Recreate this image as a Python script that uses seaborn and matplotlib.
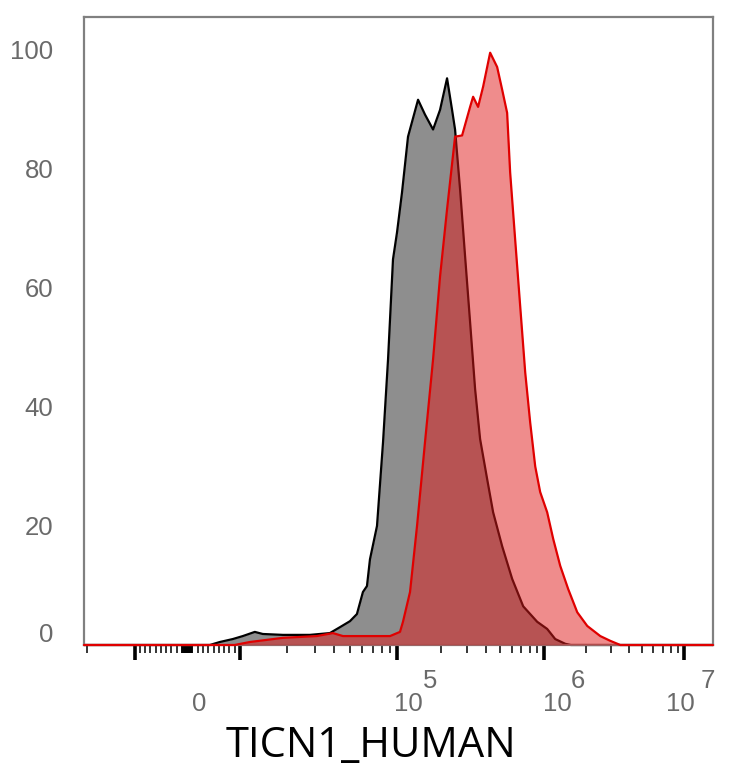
import numpy as np
import pandas as pd
import matplotlib
matplotlib.use("Agg")
import matplotlib.pyplot as plt
import matplotlib.transforms as mtransforms
import seaborn as sns

# histogram outlines: fluorescence intensity vs. normalized count (% of mode)
control_x = [-21000, 4300, 6190, 8670, 10450, 12460, 14010, 18790, 27900, 37400,
             43400, 50200, 55600, 60700, 64400, 67300, 74600, 81500, 87700, 94300,
             100000, 108100, 118800, 139000, 155000, 175800, 196100, 218800, 236600,
             248000, 268300, 290100, 313800, 339300, 366900, 409500, 449800, 518000,
             606000, 720000, 896000, 1050000, 1198000, 1413000, 1550000, 16000000]
control_y = [0, 0, 0.5, 1.0, 1.5, 2.2, 1.85, 1.7, 1.7, 2.0,
             3.0, 4.0, 5.2, 8.9, 9.9, 14.4, 20.0, 34.1, 48.0, 64.8,
             69.3, 76.0, 85.4, 91.6, 89.1, 86.6, 89.9, 95.2, 89.9,
             86.6, 76.5, 65.3, 54.2, 43.0, 34.6, 27.9, 22.3, 16.6,
             11.1, 6.5, 3.9, 2.7, 1.0, 0.2, 0, 0]

stained_x = [-21000, 9000, 11580, 18790, 30900, 39100, 45300, 70300, 90300, 104800,
             109800, 122600, 136800, 155000, 175800, 196100, 218800, 248000, 276800,
             313800, 328900, 355600, 384700, 429300, 479000, 518000, 560000, 587000,
             635000, 687000, 743000, 803000, 869000, 939000, 1050000, 1160000, 1301000,
             1483000, 1721000, 2028000, 2512000, 2960000, 3490000, 16000000]
stained_y = [0, 0, 0.5, 1.2, 1.5, 2.0, 1.5, 1.5, 1.5, 2.2,
             3.9, 8.9, 20.0, 34.1, 48.0, 61.9, 73.2, 85.4, 85.6,
             90.4, 92.1, 90.4, 93.8, 99.5, 97.1, 93.3, 89.4, 79.4,
             68.1, 56.9, 45.8, 37.4, 30.0, 25.7, 22.3, 17.8, 13.3,
             9.4, 5.5, 3.2, 1.5, 0.7, 0, 0]

y_ticks = [0, 20, 40, 60, 80, 100]
x_label = "TICN1_HUMAN"

# biexponential-like display axis (linear around zero, log above 1e4)
LIN = 1e4
s_anchor = [-10, -2, -1, 0, 1, 2, 3, 4, 10]
p_anchor = [-1278, -22, 135, 187.5, 240, 397, 544, 684, 1524]


def _to_s(x):
    x = np.asarray(x, dtype=float)
    ax_ = np.maximum(np.abs(x), 1e-12)
    with np.errstate(divide="ignore", invalid="ignore"):
        s = np.where(ax_ <= LIN, x / LIN, np.sign(x) * (1 + np.log10(ax_ / LIN)))
    return s


def fwd(x):
    return np.interp(_to_s(x), s_anchor, p_anchor)


def inv(p):
    s = np.interp(np.asarray(p, dtype=float), p_anchor, s_anchor)
    return np.where(np.abs(s) <= 1, s * LIN, np.sign(s) * LIN * 10 ** (np.abs(s) - 1))


sns.set_theme(style="white")
plt.rcParams["font.family"] = ["Liberation Sans", "DejaVu Sans"]

fig = plt.figure(figsize=(7.34, 7.68), dpi=100)
ax = fig.add_axes([84 / 734, 1 - 645 / 768, 629 / 734, 628 / 768])
ax.set_xscale("function", functions=(fwd, inv))

df = pd.concat([
    pd.DataFrame({"intensity": control_x, "count": control_y, "sample": "control"}),
    pd.DataFrame({"intensity": stained_x, "count": stained_y, "sample": "stained"}),
])

ctrl = df[df["sample"] == "control"]
stn = df[df["sample"] == "stained"]

ax.fill_between(ctrl["intensity"], ctrl["count"], color="#8e8e8e", lw=0, zorder=1)
sns.lineplot(data=ctrl, x="intensity", y="count", color="black", lw=1.6,
             sort=False, ax=ax, zorder=2, clip_on=False)
ax.fill_between(stn["intensity"], stn["count"], color="#e01a1a", alpha=0.5, lw=0, zorder=3)
sns.lineplot(data=stn, x="intensity", y="count", color="#e00000", lw=1.6,
             sort=False, ax=ax, zorder=4, clip_on=False)

ax.set_xlim(-21000, 16000000)
ax.set_ylim(0, 105.5)

# frame
for sp in ax.spines.values():
    sp.set_color("#808080")
    sp.set_linewidth(1.6)

# y axis
ax.set_yticks(y_ticks)
ax.set_yticklabels([str(v) for v in y_ticks])
ax.tick_params(axis="y", length=0, pad=22, labelsize=18.5, labelcolor="#6a6a6a")
lab0 = ax.get_yticklabels()[0]
lab0.set_transform(lab0.get_transform() + mtransforms.ScaledTranslation(0, 0.12, fig.dpi_scale_trans))

# x axis ticks
major = [-1e4, 1e4, 1e5, 1e6, 1e7]
minor = [-2e4] + [-k * 1000 for k in range(1, 10)] + [-k * 100 for k in range(1, 10)] + [0] \
    + [k * 100 for k in range(1, 10)] + [k * 1000 for k in range(1, 10)]
for dec in [1e4, 1e5, 1e6]:
    minor += [k * dec for k in range(2, 10)]
ax.set_xticks(major)
ax.set_xticks(minor, minor=True)
ax.set_xticklabels([])
ax.tick_params(axis="x", which="major", direction="out", length=10.5, width=2.6,
               color="black", bottom=True)
ax.tick_params(axis="x", which="minor", direction="out", length=5.5, width=1.1,
               color="black", bottom=True)
ax.set_ylabel("")

# x tick labels (base and raised exponent)
blend = mtransforms.blended_transform_factory(ax.transData, ax.transAxes)
x_lab = [(0, "0", 12, None, 0), (1e5, "10", 11, "5", 33),
         (1e6, "10", 13, "6", 34), (1e7, "10", -4, "7", 23)]
for v, base, dx, ex, dxe in x_lab:
    t = blend + mtransforms.ScaledTranslation(dx / 100, -59 / 100, fig.dpi_scale_trans)
    ax.text(v, 0, base, transform=t, ha="center", va="center", fontsize=18.5,
            color="#6a6a6a", clip_on=False)
    if ex:
        t2 = blend + mtransforms.ScaledTranslation(dxe / 100, -36 / 100, fig.dpi_scale_trans)
        ax.text(v, 0, ex, transform=t2, ha="center", va="center", fontsize=18.5,
                color="#6a6a6a", clip_on=False)

ax.set_xlabel(x_label, fontsize=30, color="black", family=["Open Sans", "DejaVu Sans"])
ax.xaxis.set_label_coords((371 - 84) / 629, -(746 - 645) / 628)
ax.xaxis.label.set_verticalalignment("center")

fig.savefig("out.png", dpi=100)
